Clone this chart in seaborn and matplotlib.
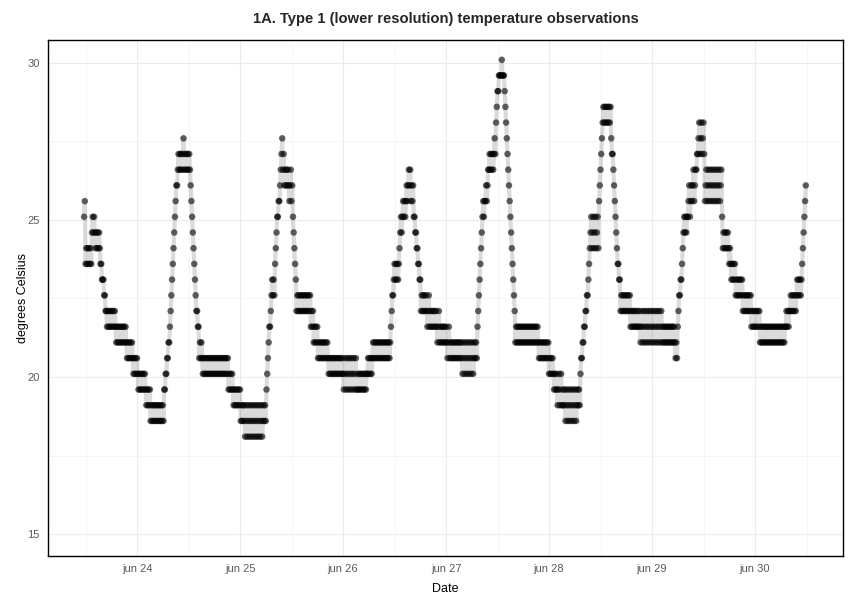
import matplotlib
matplotlib.use('Agg')
import matplotlib.pyplot as plt
import numpy as np
import pandas as pd
import seaborn as sns

# Logger reads every 10 minutes, 0.5 degree resolution.
# Each run is (lowest level, highest level, minutes); inside a run the
# reading flickers between the levels from lo to hi.
start_time = '2015-06-23 11:40'

day1_runs = [
    (25.1, 25.6, 20), (23.6, 24.1, 90), (24.6, 25.1, 50), (24.1, 24.6, 70),
    (23.6, 23.6, 20), (23.1, 23.1, 30), (22.6, 22.6, 20), (22.1, 22.1, 20),
    (21.6, 22.1, 130), (21.1, 21.6, 150), (20.6, 21.1, 90), (20.1, 20.6, 70),
    (19.6, 20.1, 110), (19.1, 19.6, 60), (18.6, 19.1, 190),
    (19.6, 19.6, 20), (20.1, 20.1, 20), (20.6, 20.6, 20), (21.1, 21.1, 20),
    (21.6, 21.6, 10), (22.1, 22.1, 10), (22.6, 22.6, 10), (23.1, 23.1, 10),
    (23.6, 23.6, 10), (24.1, 24.1, 10), (24.6, 24.6, 10), (25.1, 25.1, 10),
    (25.6, 25.6, 10), (26.1, 26.1, 20), (26.6, 27.1, 70), (27.1, 27.6, 20),
    (26.6, 27.1, 90),
    (26.1, 26.1, 10), (25.6, 25.6, 10), (25.1, 25.1, 10), (24.6, 24.6, 10),
    (24.1, 24.1, 10), (23.6, 23.6, 10), (23.1, 23.1, 10), (22.6, 22.6, 10),
    (22.1, 22.1, 20), (21.6, 21.6, 20),
]

day2_runs = [
    (20.6, 21.1, 50), (20.1, 20.6, 360), (19.6, 20.1, 70), (19.1, 19.6, 100),
    (18.6, 19.1, 60), (18.1, 19.1, 250), (18.6, 19.1, 50),
    (19.6, 19.6, 10), (20.1, 20.1, 10), (20.6, 20.6, 10), (21.1, 21.1, 10),
    (21.6, 21.6, 20), (22.1, 22.1, 10), (22.6, 23.1, 50), (23.6, 23.6, 10),
    (24.1, 24.1, 10), (24.6, 24.6, 10), (25.1, 25.1, 20), (25.6, 25.6, 20),
    (26.1, 26.1, 10), (26.6, 26.6, 10), (27.1, 27.1, 10), (27.6, 27.6, 10),
    (26.6, 27.1, 20), (26.1, 26.6, 70), (25.6, 26.6, 50),
    (25.1, 25.1, 10), (24.6, 24.6, 10), (24.1, 24.1, 10), (23.6, 23.6, 10),
    (23.1, 23.1, 10), (22.1, 22.6, 200), (21.6, 22.1, 40), (21.1, 21.6, 60),
    (20.6, 21.1, 150), (20.1, 20.6, 210), (19.6, 20.6, 190), (19.6, 20.1, 140),
    (20.1, 20.6, 70), (20.6, 21.1, 260),
]

day3_runs = [
    (21.6, 21.6, 10), (22.1, 22.1, 10), (22.6, 22.6, 20), (23.1, 23.6, 80),
    (24.1, 24.1, 10), (24.6, 25.1, 30), (25.1, 25.6, 50), (25.6, 26.1, 30),
    (26.1, 26.6, 40), (25.6, 26.1, 40),
    (25.1, 25.1, 20), (24.6, 24.6, 20), (24.1, 24.1, 20), (23.6, 23.6, 20),
    (23.1, 23.1, 20), (22.1, 22.6, 90), (21.6, 22.6, 30), (21.6, 22.1, 110),
    (21.1, 22.1, 50), (21.1, 21.6, 90), (20.6, 21.6, 50), (20.6, 21.1, 160),
    (20.1, 21.1, 160), (20.6, 21.1, 50),
]

day4_runs = [
    (21.6, 21.6, 10), (22.1, 22.1, 10), (22.6, 22.6, 10), (23.1, 23.1, 10),
    (23.6, 23.6, 10), (24.1, 24.1, 10), (24.6, 24.6, 10), (25.1, 25.6, 40),
    (25.6, 26.1, 40), (26.6, 26.6, 10), (26.6, 27.1, 70), (27.1, 27.6, 30),
    (28.1, 28.1, 10), (28.6, 28.6, 10), (29.1, 29.1, 20), (29.6, 29.6, 40),
    (30.1, 30.1, 10), (29.6, 29.6, 30),
    (29.1, 29.1, 10), (28.6, 28.6, 10), (28.1, 28.1, 10), (27.6, 27.6, 10),
    (27.1, 27.1, 10), (26.6, 26.6, 10), (26.1, 26.1, 10), (25.6, 25.6, 10),
    (25.1, 25.1, 10), (24.6, 24.6, 10), (24.1, 24.1, 10), (23.6, 23.6, 10),
    (23.1, 23.1, 10), (22.6, 22.6, 10), (22.1, 22.1, 10),
    (21.1, 21.6, 330), (20.6, 21.1, 140), (20.1, 20.6, 70), (19.6, 20.1, 50),
    (19.1, 20.1, 70), (19.1, 19.6, 40), (18.6, 19.6, 160), (19.1, 19.6, 50),
]

day5_runs = [
    (20.1, 20.1, 10), (20.6, 20.6, 20), (21.1, 21.1, 20), (21.6, 21.6, 20),
    (22.1, 22.1, 20), (22.6, 22.6, 20), (23.1, 23.1, 10), (23.6, 23.6, 10),
    (24.1, 25.1, 130), (25.6, 25.6, 10), (26.1, 26.1, 10), (26.6, 26.6, 10),
    (27.1, 27.1, 10), (27.6, 27.6, 10), (28.1, 28.6, 120),
    (27.6, 27.6, 10), (27.1, 27.1, 20), (26.6, 26.6, 10), (26.1, 26.1, 10),
    (25.6, 25.6, 10), (25.1, 25.1, 10), (24.6, 24.6, 10), (24.1, 24.1, 10),
    (23.6, 23.6, 20), (23.1, 23.1, 20), (22.1, 22.6, 140), (21.6, 22.1, 90),
    (21.6, 22.1, 50), (21.1, 22.1, 320), (21.1, 21.6, 170), (20.6, 21.1, 30),
]

day6_runs = [
    (21.6, 21.6, 10), (22.1, 22.1, 10), (22.6, 22.6, 20), (23.1, 23.1, 20),
    (23.6, 23.6, 10), (24.1, 24.1, 10), (24.6, 25.1, 60), (25.1, 26.1, 60),
    (25.6, 26.6, 60), (26.6, 27.1, 20), (27.1, 28.1, 100), (25.6, 26.6, 240),
    (25.1, 25.1, 10), (24.1, 24.6, 90), (23.6, 24.1, 30), (23.1, 23.6, 60),
    (22.6, 23.1, 100), (22.1, 22.6, 120), (21.6, 22.1, 120), (21.1, 21.6, 360),
    (21.6, 22.1, 60), (22.1, 22.6, 90), (22.6, 23.1, 80),
    (23.6, 23.6, 10), (24.1, 24.1, 10), (24.6, 24.6, 10), (25.1, 25.1, 10),
    (25.6, 25.6, 10), (26.1, 26.1, 10),
]

tick_dates = ['2015-06-24', '2015-06-25', '2015-06-26', '2015-06-27',
              '2015-06-28', '2015-06-29', '2015-06-30']
tick_labels = ['jun 24', 'jun 25', 'jun 26', 'jun 27', 'jun 28', 'jun 29', 'jun 30']

# decode the runs into 10 minute readings
temps = []
for lo, hi, minutes in day1_runs + day2_runs + day3_runs + day4_runs + day5_runs + day6_runs:
    levels = np.arange(lo, hi + 0.01, 0.5)
    for i in range(minutes // 10):
        temps.append(round(levels[i % len(levels)], 1))

df = pd.DataFrame({
    'Date': pd.date_range(start_time, periods=len(temps), freq='10min'),
    'temp': temps,
})

sns.set_style('white')
plt.rcParams['font.family'] = ['Liberation Sans', 'DejaVu Sans']

fig, ax = plt.subplots(figsize=(8.63, 6.02), dpi=100)
fig.subplots_adjust(left=0.0556, right=0.9768, top=0.9336, bottom=0.0764)

sns.lineplot(data=df, x='Date', y='temp', color='black', alpha=0.14,
             linewidth=3.0, estimator=None, ax=ax)
sns.scatterplot(data=df, x='Date', y='temp', color='black', alpha=0.6,
                s=22, edgecolor='none', ax=ax)

major = pd.to_datetime(tick_dates)
ax.set_xticks(major)
ax.set_xticklabels(tick_labels)
ax.set_xticks(list(major[:1] - pd.Timedelta(hours=12)) + list(major + pd.Timedelta(hours=12)), minor=True)
ax.set_yticks([15, 20, 25, 30])
ax.set_yticks([17.5, 22.5, 27.5], minor=True)
ax.set_xlim(pd.Timestamp('2015-06-23 03:15'), pd.Timestamp('2015-06-30 20:30'))
ax.set_ylim(14.3, 30.73)

ax.set_axisbelow(True)
ax.grid(which='major', color='#EBEBEB', linewidth=0.8)
ax.grid(which='minor', color='#F4F4F4', linewidth=0.6)
for sp in ax.spines.values():
    sp.set_color('black')
    sp.set_linewidth(1.0)
ax.tick_params(which='major', length=3, width=0.8, color='#333333',
               labelsize=8, labelcolor='#5A5A5A', pad=3)
ax.tick_params(which='minor', length=0)

ax.set_xlabel('Date', fontsize=9, color='black', labelpad=6)
ax.set_ylabel('degrees Celsius', fontsize=9, color='black', labelpad=-1)
ax.set_title('1A. Type 1 (lower resolution) temperature observations',
             fontsize=10.6, fontweight='bold', pad=12)

plt.savefig('out.png', dpi=100)
